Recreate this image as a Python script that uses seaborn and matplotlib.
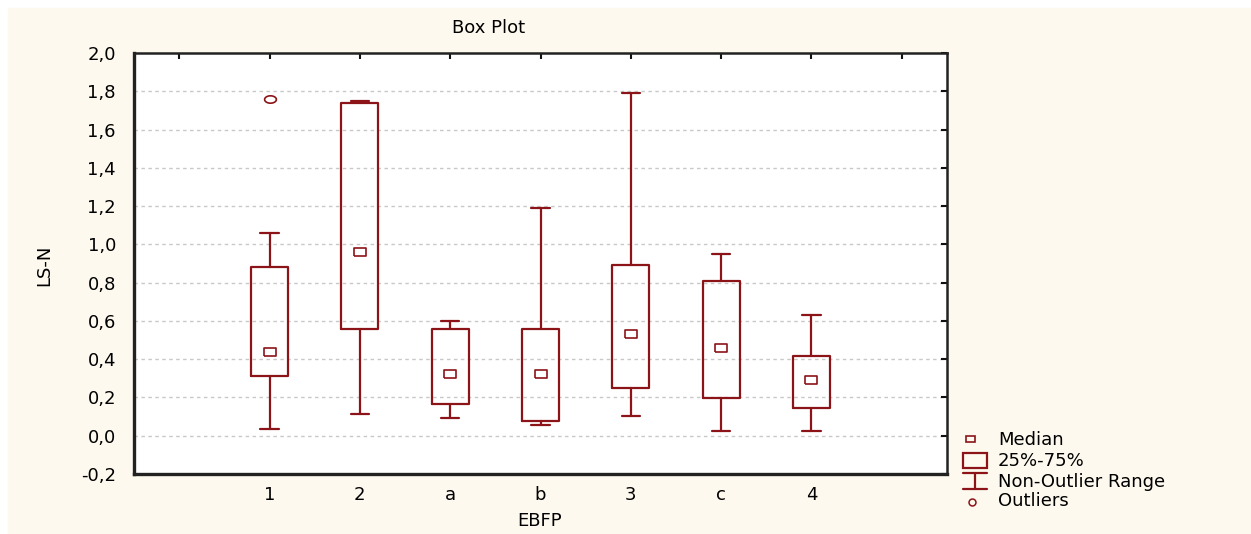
import numpy as np
import pandas as pd
import seaborn as sns
import matplotlib.pyplot as plt
from matplotlib.patches import Rectangle

# values
groups = ["1", "2", "a", "b", "3", "c", "4"]
medians = [0.44, 0.96, 0.32, 0.32, 0.53, 0.46, 0.29]
q1 = [0.31, 0.56, 0.165, 0.075, 0.25, 0.195, 0.145]
q3 = [0.88, 1.74, 0.56, 0.56, 0.89, 0.81, 0.415]
whisk_lo = [0.035, 0.115, 0.095, 0.055, 0.105, 0.025, 0.025]
whisk_hi = [1.06, 1.75, 0.60, 1.19, 1.79, 0.95, 0.63]
outlier_group = ["1"]
outlier_value = [1.76]

yticks = [-0.2, 0.0, 0.2, 0.4, 0.6, 0.8, 1.0, 1.2, 1.4, 1.6, 1.8, 2.0]

red = "#8c1418"
cream = "#fdf9ee"

sns.set_style("white")
plt.rcParams['font.family'] = ['DejaVu Sans']
plt.rcParams['text.color'] = "black"
plt.rcParams['xtick.color'] = "#111"
plt.rcParams['ytick.color'] = "#111"
plt.rcParams['xtick.labelcolor'] = "black"
plt.rcParams['ytick.labelcolor'] = "black"
fs = 13

W, H = 1251, 534
fig = plt.figure(figsize=(W / 100, H / 100), dpi=100)
fig.patch.set_facecolor("white")
fig.patches.append(Rectangle((8 / W, 0), 1, 1 - 8 / H, transform=fig.transFigure,
                             color=cream, zorder=-10))

ax = fig.add_axes([134 / W, (H - 474) / H, 813 / W, 421 / H])
ax.set_facecolor("white")

pos = {g: i + 1 for i, g in enumerate(groups)}
stats = []
for g, m, a, b, lo, hi in zip(groups, medians, q1, q3, whisk_lo, whisk_hi):
    stats.append(dict(label=g, med=m, q1=a, q3=b, whislo=lo, whishi=hi, fliers=[]))

ax.bxp(stats, positions=[pos[g] for g in groups], widths=0.41, capwidths=0.2,
       showfliers=False,
       boxprops=dict(color=red, linewidth=1.6),
       whiskerprops=dict(color=red, linewidth=1.6),
       capprops=dict(color=red, linewidth=1.6),
       medianprops=dict(linewidth=0))

rect_marker = [(-1.6, -1), (1.6, -1), (1.6, 1), (-1.6, 1), (-1.6, -1)]
t = np.linspace(0, 2 * np.pi, 40)
ell_marker = list(zip(1.6 * np.cos(t), np.sin(t)))

med_df = pd.DataFrame({"x": [pos[g] for g in groups], "y": medians})
sns.scatterplot(data=med_df, x="x", y="y", ax=ax, marker=rect_marker, s=72,
                facecolor="white", edgecolor=red, linewidth=1.2, zorder=5)
out_df = pd.DataFrame({"x": [pos[g] for g in outlier_group], "y": outlier_value})
sns.scatterplot(data=out_df, x="x", y="y", ax=ax, marker=ell_marker, s=72,
                facecolor="white", edgecolor=red, linewidth=1.2, zorder=5)

ax.set_xlim(-0.5, 8.5)
ax.set_ylim(-0.2, 2.0)
ax.set_xticks(range(9))
ax.set_xticklabels([""] + groups + [""], fontsize=fs)
ax.set_yticks(yticks)
ax.set_yticklabels([f"{v:.1f}".replace(".", ",") for v in yticks], fontsize=fs)
ax.tick_params(direction="in", length=4, width=1.5,
               top=True, right=True, labeltop=False, labelright=False, pad=13)
ax.tick_params(axis="x", pad=9)

for y in yticks[1:-1]:
    ax.axhline(y, color="#c8c8c8", linestyle=(0, (2.5, 2.5)), linewidth=1, zorder=0)

for side in ["left", "bottom"]:
    ax.spines[side].set_linewidth(2.4)
    ax.spines[side].set_color("#222")
for side in ["top", "right"]:
    ax.spines[side].set_linewidth(1.8)
    ax.spines[side].set_color("#222")

ax.set_xlabel("")
ax.set_ylabel("")
fig.text(489 / W, 1 - 28 / H, "Box Plot", ha="center", va="center", fontsize=fs)
fig.text(540 / W, 1 - 521 / H, "EBFP", ha="center", va="center", fontsize=fs)
fig.text(44 / W, 1 - 265 / H, "LS-N", ha="center", va="center", rotation=90, fontsize=fs)

# legend drawn in pixel coordinates
lg = fig.add_axes([0, 0, 1, 1])
lg.set_xlim(0, W)
lg.set_ylim(H, 0)
lg.axis("off")
lg.patch.set_alpha(0)
lg.add_patch(Rectangle((966, 436), 9, 6, fill=False, edgecolor=red, linewidth=1.2))
lg.add_patch(Rectangle((963, 453), 24, 15, fill=False, edgecolor=red, linewidth=1.6))
lg.plot([963, 987], [473, 473], color=red, linewidth=1.6)
lg.plot([975, 975], [473, 489], color=red, linewidth=1.6)
lg.plot([963, 987], [489, 489], color=red, linewidth=1.6)
lg.plot([972], [502], marker="o", markersize=5, markerfacecolor="none",
        markeredgecolor=red, markeredgewidth=1.1)
for yy, txt in zip([440, 461, 482, 501], ["Median", "25%-75%", "Non-Outlier Range", "Outliers"]):
    lg.text(998, yy, txt, ha="left", va="center", fontsize=fs)

fig.savefig("out.png", dpi=100, facecolor=fig.get_facecolor())
